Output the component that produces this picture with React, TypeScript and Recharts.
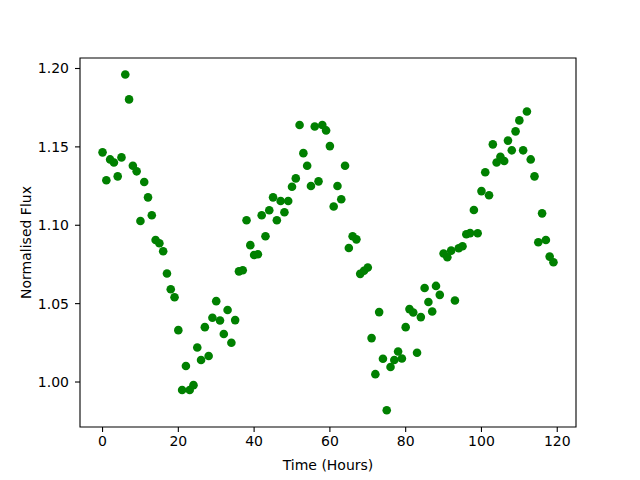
import { ScatterChart, Scatter, XAxis, YAxis, ReferenceArea, Label } from "recharts";

const hours = [
  0, 1, 2, 3, 4, 5, 6, 7, 8, 9, 10, 11, 12, 13, 14, 15, 16, 17, 18, 19,
  20, 21, 22, 23, 24, 25, 26, 27, 28, 29, 30, 31, 32, 33, 34, 35, 36, 37, 38, 39,
  40, 41, 42, 43, 44, 45, 46, 47, 48, 49, 50, 51, 52, 53, 54, 55, 56, 57, 58, 59,
  60, 61, 62, 63, 64, 65, 66, 67, 68, 69, 70, 71, 72, 73, 74, 75, 76, 77, 78, 79,
  80, 81, 82, 83, 84, 85, 86, 87, 88, 89, 90, 91, 92, 93, 94, 95, 96, 97, 98, 99,
  100, 101, 102, 103, 104, 105, 106, 107, 108, 109, 110, 111, 112, 113, 114, 115, 116, 117, 118, 119,
];

const flux = [
  1.1465, 1.1287, 1.142, 1.14, 1.1312, 1.1433, 1.1962, 1.1803, 1.138, 1.1344,
  1.1027, 1.1276, 1.1178, 1.1064, 1.0906, 1.0885, 1.0834, 1.0692, 1.0592, 1.0541,
  1.0331, 0.9949, 1.0102, 0.9949, 0.998, 1.022, 1.014, 1.035, 1.0166, 1.041,
  1.0516, 1.0392, 1.0306, 1.0459, 1.025, 1.0395, 1.0706, 1.0713, 1.1032, 1.0873,
  1.081, 1.0815, 1.1064, 1.093, 1.1096, 1.1178, 1.1032, 1.1155, 1.1083, 1.1155,
  1.1246, 1.1299, 1.164, 1.146, 1.138, 1.125, 1.163, 1.128, 1.164, 1.1605,
  1.1505, 1.112, 1.125, 1.1166, 1.138, 1.0855, 1.093, 1.091, 1.069, 1.071,
  1.073, 1.028, 1.005, 1.0446, 1.0148, 0.982, 1.0096, 1.014, 1.0195, 1.015,
  1.035, 1.0465, 1.0443, 1.0187, 1.0414, 1.06, 1.051, 1.045, 1.0613, 1.0556,
  1.082, 1.0796, 1.0838, 1.052, 1.0853, 1.0866, 1.0943, 1.095, 1.1097, 1.0949,
  1.1218, 1.1338, 1.1191, 1.1516, 1.14, 1.1437, 1.141, 1.154, 1.1478, 1.1599,
  1.1669, 1.1478, 1.1726, 1.142, 1.1312, 1.0892, 1.1076, 1.0906, 1.08, 1.0764,
];

const xTicks = [0, 20, 40, 60, 80, 100, 120];
const yTicks = [1.0, 1.05, 1.1, 1.15, 1.2];

const X_DOMAIN: [number, number] = [-5.95, 124.95];
const Y_DOMAIN: [number, number] = [0.9713, 1.2067];

const font = "'DejaVu Sans', sans-serif";

export default function App() {
  const data = hours.map((h, i) => ({ hour: h, flux: flux[i] }));

  return (
    <div style={{ position: "absolute", left: 0, top: 0, background: "#fff" }}>
      <ScatterChart
        width={640}
        height={480}
        margin={{ top: 58, right: 64, bottom: 0, left: 0 }}
        style={{ fontFamily: font }}
      >
        <XAxis
          type="number"
          dataKey="hour"
          domain={X_DOMAIN}
          ticks={xTicks}
          allowDataOverflow
          height={53}
          axisLine={false}
          tickLine={{ stroke: "#000", strokeWidth: 1.1 }}
          tickSize={5}
          tickMargin={4}
          tick={{ fill: "#000", fontSize: 14, fontFamily: font }}
        >
          <Label
            value="Time (Hours)"
            position="insideBottom"
            offset={10}
            style={{ fill: "#000", fontSize: 14, fontFamily: font }}
          />
        </XAxis>
        <YAxis
          type="number"
          dataKey="flux"
          domain={Y_DOMAIN}
          ticks={yTicks}
          allowDataOverflow
          width={80}
          axisLine={false}
          tickLine={{ stroke: "#000", strokeWidth: 1.1 }}
          tickSize={5}
          tickMargin={6}
          tickFormatter={(v: number) => v.toFixed(2)}
          tick={{ fill: "#000", fontSize: 14, fontFamily: font }}
        >
          <Label
            content={(props: any) => {
              const vb = props.viewBox || { x: 0, y: 58, width: 80, height: 369 };
              const cx = vb.x + 26;
              const cy = vb.y + vb.height / 2;
              return (
                <text
                  x={cx}
                  y={cy}
                  transform={`rotate(-90 ${cx} ${cy})`}
                  textAnchor="middle"
                  dominantBaseline="central"
                  fill="#000"
                  fontSize={14}
                  fontFamily={font}
                >
                  Normalised Flux
                </text>
              );
            }}
          />
        </YAxis>
        <ReferenceArea
          x1={X_DOMAIN[0]}
          x2={X_DOMAIN[1]}
          y1={Y_DOMAIN[0]}
          y2={Y_DOMAIN[1]}
          fill="none"
          fillOpacity={0}
          stroke="#000"
          strokeWidth={1.1}
          ifOverflow="visible"
        />
        <Scatter
          data={data}
          isAnimationActive={false}
          shape={(p: any) => <circle cx={p.cx} cy={p.cy} r={4.3} fill="#008000" />}
        />
      </ScatterChart>
    </div>
  );
}
